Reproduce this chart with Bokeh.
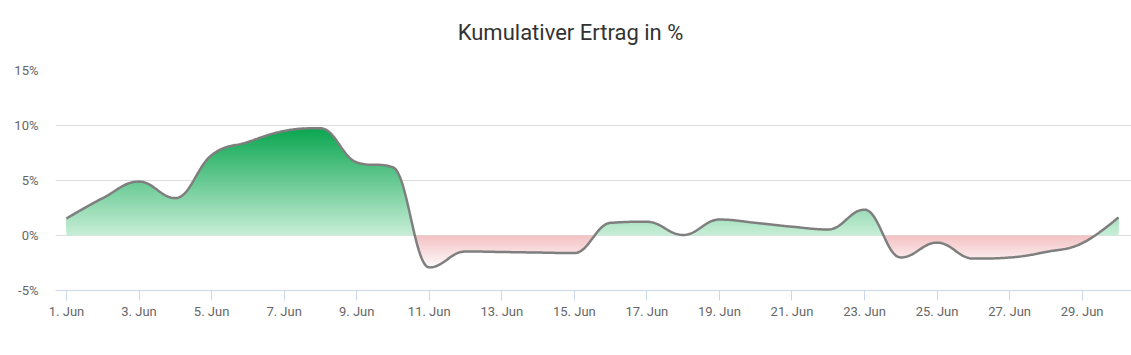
import numpy as np
from bokeh.plotting import figure
from bokeh.models import FixedTicker, Div, Range1d
from bokeh.core.properties import value
from bokeh.layouts import column
from bokeh.embed import file_html
from bokeh.resources import INLINE

# ---- data ----
days = list(range(1, 31))
values = [1.55, 3.4, 4.9, 3.4, 7.3, 8.5, 9.5, 9.75, 6.65, 6.2,
          -2.9, -1.45, -1.5, -1.55, -1.6, 1.15, 1.25, 0.05, 1.45, 1.15,
          0.8, 0.55, 2.35, -2.0, -0.65, -2.1, -2.0, -1.5, -0.7, 1.65]
x_ticks = list(range(1, 30, 2))
x_tick_labels = [f"{d}. Jun" for d in x_ticks]
y_ticks = [-5, 0, 5, 10, 15]
y_tick_labels = ["-5%", "0%", "5%", "10%", "15%"]
title_text = "Kumulativer Ertrag in %"


def spline(xs, ys, smoothing=1.5, n=30):
    denom = smoothing + 1
    N = len(xs)
    lc = [None] * N
    rc = [None] * N
    for i in range(1, N - 1):
        px, py = xs[i], ys[i]
        lx, ly = xs[i - 1], ys[i - 1]
        nx, ny = xs[i + 1], ys[i + 1]
        lcx = (smoothing * px + lx) / denom
        lcy = (smoothing * py + ly) / denom
        rcx = (smoothing * px + nx) / denom
        rcy = (smoothing * py + ny) / denom
        if rcx != lcx:
            corr = ((rcy - lcy) * (rcx - px)) / (rcx - lcx) + py - rcy
            lcy += corr
            rcy += corr
        if lcy > ly and lcy > py:
            lcy = max(ly, py); rcy = 2 * py - lcy
        elif lcy < ly and lcy < py:
            lcy = min(ly, py); rcy = 2 * py - lcy
        if rcy > ny and rcy > py:
            rcy = max(ny, py); lcy = 2 * py - rcy
        elif rcy < ny and rcy < py:
            rcy = min(ny, py); lcy = 2 * py - rcy
        lc[i] = (lcx, lcy)
        rc[i] = (rcx, rcy)
    ox, oy = [xs[0]], [ys[0]]
    t = np.linspace(0, 1, n + 1)[1:]
    for i in range(1, N):
        p0 = (xs[i - 1], ys[i - 1])
        p3 = (xs[i], ys[i])
        p1 = rc[i - 1] if rc[i - 1] is not None else p0
        p2 = lc[i] if lc[i] is not None else p3
        bx = ((1 - t) ** 3) * p0[0] + 3 * ((1 - t) ** 2) * t * p1[0] + 3 * (1 - t) * t ** 2 * p2[0] + t ** 3 * p3[0]
        by = ((1 - t) ** 3) * p0[1] + 3 * ((1 - t) ** 2) * t * p1[1] + 3 * (1 - t) * t ** 2 * p2[1] + t ** 3 * p3[1]
        ox.extend(bx.tolist())
        oy.extend(by.tolist())
    return np.array(ox), np.array(oy)


cx, cy = spline(days, values)


def mix(c1, c2, f):
    r = [int(round(a + (b - a) * f)) for a, b in zip(c1, c2)]
    return "#%02x%02x%02x" % tuple(r)


# ---- title strip (frame aligned with the main chart's frame, 55..1131 px) ----
t = figure(width=1131, height=50, output_backend="svg", toolbar_location=None,
           x_range=Range1d(55, 1131), y_range=Range1d(50, 0),
           min_border=0, x_axis_type=None, y_axis_type=None)
t.xgrid.grid_line_color = None
t.ygrid.grid_line_color = None
t.outline_line_color = None
t.text(x=[570], y=[32], text=[title_text], text_align="center", text_baseline="middle",
       text_font=value("Roboto"), text_font_size="22px", text_color="#333333")

# ---- main chart ----
p = figure(width=1131, height=303, output_backend="svg", toolbar_location=None,
           x_range=(0.697, 30.36), y_range=(-5, 15),
           min_border_left=55, min_border_right=0, min_border_top=20, min_border_bottom=63)

ymax = max(values)
green_low = (200, 238, 215)
green_high = (10, 166, 80)
nb = 60
for k in range(nb):
    a = ymax * k / nb
    f = (k + 0.5) / nb
    y2 = np.maximum(cy, a)
    p.varea(x=cx, y1=np.full_like(cx, a), y2=y2, fill_color=mix(green_low, green_high, f), fill_alpha=1.0)

ymin = min(cy)
pink_high = (243, 194, 196)
pink_low = (255, 250, 250)
for k in range(nb):
    a = ymin * k / nb
    f = (k + 0.5) / nb
    y1 = np.minimum(cy, a)
    p.varea(x=cx, y1=y1, y2=np.full_like(cx, a), fill_color=mix(pink_high, pink_low, f), fill_alpha=1.0)

p.line(cx, cy, line_color="#7f7f7f", line_width=2.5)

p.xaxis.ticker = FixedTicker(ticks=x_ticks)
p.xaxis.major_label_overrides = {t_: l for t_, l in zip(x_ticks, x_tick_labels)}
p.xaxis.axis_line_color = "#ccd6eb"
p.xaxis.major_tick_line_color = "#ccd6eb"
p.xaxis.major_tick_out = 10
p.xaxis.major_tick_in = 0
p.xaxis.minor_tick_line_color = None
p.xaxis.major_label_text_font = "Roboto"
p.xaxis.major_label_text_font_size = "13px"
p.xaxis.major_label_text_color = "#666666"
p.xaxis.major_label_standoff = 3

p.yaxis.ticker = FixedTicker(ticks=y_ticks)
p.yaxis.major_label_overrides = {t_: l for t_, l in zip(y_ticks, y_tick_labels)}
p.yaxis.axis_line_color = None
p.yaxis.major_tick_line_color = None
p.yaxis.major_tick_out = 0
p.yaxis.major_tick_in = 0
p.yaxis.minor_tick_line_color = None
p.yaxis.major_label_text_font = "Roboto"
p.yaxis.major_label_text_font_size = "13px"
p.yaxis.major_label_text_color = "#666666"
p.yaxis.major_label_standoff = 17

p.xgrid.grid_line_color = None
p.ygrid.grid_line_color = "#dcdcdc"
p.outline_line_color = None

bottom = Div(width=1131, height=1, styles={"background-color": "#e6e6e6"})
layout = column(t, p, bottom, spacing=0)

open("out.html", "w").write(file_html(layout, INLINE))
